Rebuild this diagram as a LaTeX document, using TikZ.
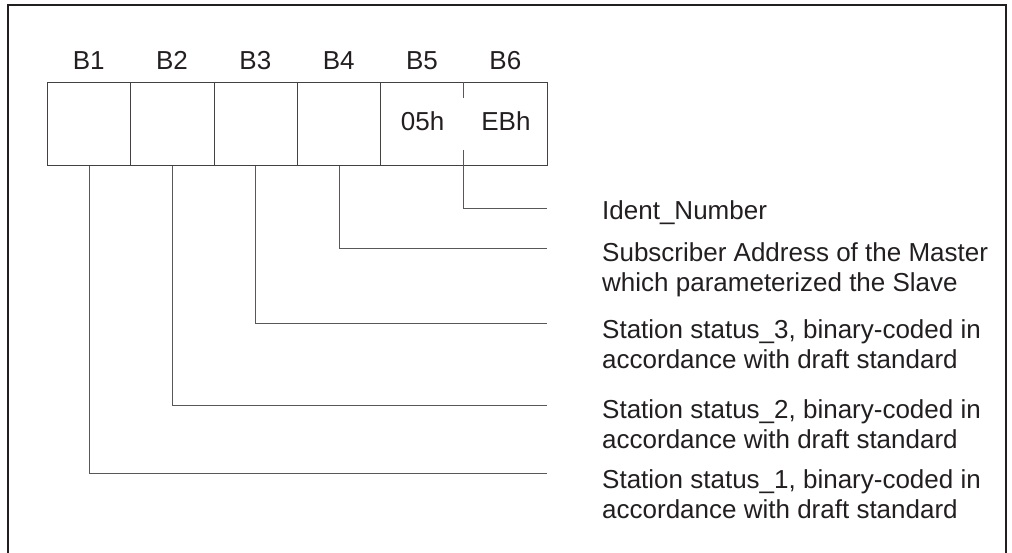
\documentclass[tikz,border=0pt]{standalone}
\usepackage{fontspec}
\setmainfont{Liberation Sans}
\usetikzlibrary{calc}
\definecolor{ink}{HTML}{231F20}
\begin{document}
\begin{tikzpicture}[x=1pt,y=-1pt,
  txt/.style={text=ink, font=\fontsize{26}{30}\selectfont, inner sep=0pt},
  cell/.style={draw=ink!85, line width=1.1pt, minimum width=83.33pt, minimum height=83pt,
    inner sep=0pt, anchor=north west},
  head/.style={txt, anchor=base},
  lead/.style={draw=ink!75, line width=0.9pt},
  desc/.style={txt, align=left, anchor=base west}]
  \useasboundingbox (0,0) rectangle (1012,553);
  % outer frame, open at the bottom
  \draw[ink, line width=2.4pt] (8,553) -- (8,5) -- (1006,5) -- (1006,553);

  % the six bytes
  \node[cell] (c1) at (47,82) {};
  \node[cell] (c2) at (130.33,82) {};
  \node[cell] (c3) at (213.67,82) {};
  \node[cell] (c4) at (297,82) {};
  % B5 and B6 share one frame, split by a broken divider
  \node[cell, minimum width=166.67pt] (c56) at (380.33,82) {};
  \node[cell, draw=none] (c5) at (380.33,82) {};
  \node[cell, draw=none] (c6) at (463.67,82) {};
  \node[head] (v5) at ($(c5.center)+(0,6.5)$) {05h};
  \node[head] (v6) at ($(c6.center)+(0,6.5)$) {EBh};
  \draw[lead] (c6.north west) -- ++(0,16);

  % byte headings
  \foreach \i in {1,...,6} {
    \node[head] (h\i) at ($(47,69.5)+(\i*83.33-41.67,0)$) {B\i};
  }

  % descriptions (anchored on the baseline of the last line)
  \node[desc] (t6) at (602,220) {Ident\_Number};
  \node[desc] (t4) at (602,291.5) {Subscriber Address of the Master\\which parameterized the Slave};
  \node[desc] (t3) at (602,368) {Station status\_3, binary-coded in\\accordance with draft standard};
  \node[desc] (t2) at (602,448) {Station status\_2, binary-coded in\\accordance with draft standard};
  \node[desc] (t1) at (602,518) {Station status\_1, binary-coded in\\accordance with draft standard};

  % leader ends
  \coordinate (e6) at (547,208);
  \coordinate (e4) at (547,248);
  \coordinate (e3) at (547,323);
  \coordinate (e2) at (547,405);
  \coordinate (e1) at (547,473);

  % leaders
  \draw[lead] ($(c6.south west)+(0,-16)$) |- (e6);
  \draw[lead] (c4.south) |- (e4);
  \draw[lead] (c3.south) |- (e3);
  \draw[lead] (c2.south) |- (e2);
  \draw[lead] (c1.south) |- (e1);
\end{tikzpicture}
\end{document}
